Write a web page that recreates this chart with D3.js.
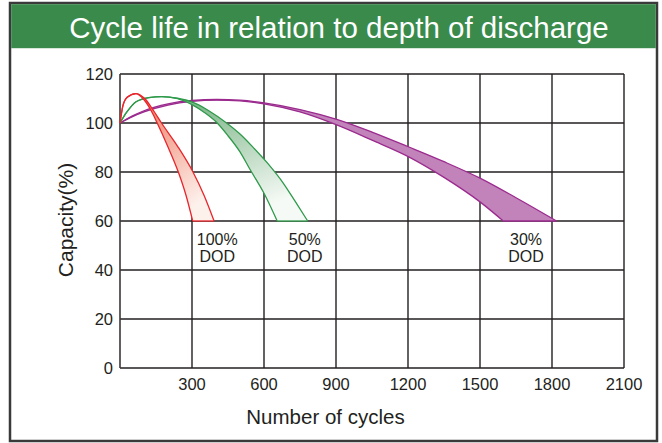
<!DOCTYPE html>
<html><head><meta charset="utf-8">
<script src="https://cdn.jsdelivr.net/npm/d3@7"></script>
<style>html,body{margin:0;padding:0;background:#fff;}svg{display:block;font-family:"Liberation Sans",Arial,sans-serif;}</style>
</head><body>
<svg id="c" width="662" height="443"></svg>
<script>
// ---- data ----
const title = "Cycle life in relation to depth of discharge";
const xLabel = "Number of cycles";
const yLabel = "Capacity(%)";
const xTicks = [300, 600, 900, 1200, 1500, 1800, 2100];
const yTicks = [0, 20, 40, 60, 80, 100, 120];

// 100% DOD band: [cycles, capacity]
const dod100Inner = [[0,100],[12,107],[30,110.5],[65,112],[100,109.5],[130,105],[155,100],[200,90.2],[243,80],[275,70.5],[303,60]];
const dod100Outer = [[0,100],[12,107],[30,110.5],[67,112],[105,109.8],[140,105],[173,100],[240,90.5],[304,80],[350,70.5],[392,60]];
// 50% DOD band
const dod50Inner = [[0,100],[28,104.4],[67,108.7],[120,110.4],[174,110.8],[240,109.9],[300,107.5],[350,104.4],[403,100.2],[450,94.8],[500,88.2],[542,81],[600,71.3],[655,60]];
const dod50Outer = [[0,100],[28,104.4],[67,108.7],[120,110.4],[174,110.8],[240,110.1],[300,108.6],[370,105],[444,100],[500,95.5],[560,89.5],[620,83],[680,75.5],[730,68],[782,60]];
// 30% DOD band
const dod30Inner = [[0,100],[50,102.5],[100,104.5],[200,107.3],[300,108.8],[403,109.3],[500,109],[600,107.8],[750,104.5],[903,99.2],[1050,93],[1201,86.3],[1350,77.8],[1500,67.8],[1597,60]];
const dod30Outer = [[0,100],[50,102.8],[100,105],[200,107.8],[300,109.2],[403,109.6],[500,109.3],[600,108.2],[750,105.5],[903,101.5],[1050,96.3],[1201,90.3],[1350,84.2],[1500,77.5],[1650,69.5],[1819,60]];

const bandLabels = [["100%","DOD"],["50%","DOD"],["30%","DOD"]];
const bandLabelPos = [[405, 60],[770, 60],[1692, 60]];

// ---- drawing ----
const svg = d3.select("#c");
const m = {left:120, right:624, top:74, bottom:368};
const x = d3.scaleLinear().domain([0,2100]).range([m.left, m.right]);
const y = d3.scaleLinear().domain([0,120]).range([m.bottom, m.top]);
const ink = "#231f20";

// frame
svg.append("rect").attr("x",10).attr("y",3).attr("width",647).attr("height",438)
  .attr("fill","#fff").attr("stroke","#3a3a3a").attr("stroke-width",2.5);
svg.append("rect").attr("x",11.2).attr("y",4.2).attr("width",644.6).attr("height",44)
  .attr("fill","#3a8b4b");
svg.append("text").attr("x",339).attr("y",38).attr("text-anchor","middle")
  .attr("fill","#fff").attr("font-size",29.5).text(title);

const defs = svg.append("defs");
function grad(id, c1, c2){
  const g = defs.append("linearGradient").attr("id",id)
    .attr("x1","0").attr("y1","0").attr("x2","0.6").attr("y2","1");
  g.append("stop").attr("offset","0").attr("stop-color",c1);
  g.append("stop").attr("offset","1").attr("stop-color",c2);
}
grad("gRed","#ec6a4e","#fdf1ec");
grad("gGreen","#5ea46c","#f6faf6");

// grid
const g = svg.append("g");
g.selectAll("line.v").data(xTicks).join("line").attr("class","v")
  .attr("x1",d=>x(d)).attr("x2",d=>x(d)).attr("y1",y(0)).attr("y2",y(120))
  .attr("stroke",ink).attr("stroke-width",1.4);
g.selectAll("line.h").data(yTicks).join("line").attr("class","h")
  .attr("x1",x(0)).attr("x2",x(2100)).attr("y1",d=>y(d)).attr("y2",d=>y(d))
  .attr("stroke",ink).attr("stroke-width",1.4);
g.append("line").attr("x1",x(0)).attr("x2",x(0)).attr("y1",y(0)).attr("y2",y(120))
  .attr("stroke","#3c3836").attr("stroke-width",1.6);

// bands
const line = d3.line().x(d=>x(d[0])).y(d=>y(d[1])).curve(d3.curveMonotoneX);
function band(inner, outer, fill, stroke){
  const p = line(outer) + line(inner.slice().reverse()).replace(/^M/,"L") + "Z";
  svg.append("path").attr("d",p).attr("fill",fill).attr("stroke","none");
  svg.append("path").attr("d",line(outer)).attr("fill","none").attr("stroke",stroke).attr("stroke-width",1.3);
  svg.append("path").attr("d",line(inner)).attr("fill","none").attr("stroke",stroke).attr("stroke-width",1.3);
  svg.append("line").attr("x1",x(inner[inner.length-1][0])).attr("x2",x(outer[outer.length-1][0]))
    .attr("y1",y(inner[inner.length-1][1])).attr("y2",y(outer[outer.length-1][1]))
    .attr("stroke",stroke).attr("stroke-width",1.3);
}
band(dod30Inner, dod30Outer, "#c283ba", "#9b2a8e");
band(dod50Inner, dod50Outer, "url(#gGreen)", "#2e9a4a");
band(dod100Inner, dod100Outer, "url(#gRed)", "#e8262c");

// tick labels
svg.selectAll("text.xt").data(xTicks).join("text").attr("class","xt")
  .attr("x",d=>x(d)).attr("y",389.5).attr("text-anchor","middle")
  .attr("font-size",16.5).attr("fill",ink).text(d=>d);
svg.selectAll("text.yt").data(yTicks).join("text").attr("class","yt")
  .attr("x",113).attr("y",d=>y(d)+6).attr("text-anchor","end")
  .attr("font-size",16.5).attr("fill",ink).text(d=>d);

// axis titles
svg.append("text").attr("x",325.5).attr("y",424).attr("text-anchor","middle")
  .attr("font-size",20.5).attr("fill",ink).text(xLabel);
svg.append("text").attr("transform","translate(73,220) rotate(-90)").attr("text-anchor","middle")
  .attr("font-size",21).attr("fill",ink).text(yLabel);

// band labels
bandLabels.forEach((lb,i)=>{
  const t = svg.append("text").attr("text-anchor","middle").attr("font-size",16).attr("fill",ink);
  t.append("tspan").attr("x",x(bandLabelPos[i][0])).attr("y",y(bandLabelPos[i][1])+24).text(lb[0]);
  t.append("tspan").attr("x",x(bandLabelPos[i][0])).attr("y",y(bandLabelPos[i][1])+41).text(lb[1]);
});
</script>
</body></html>
